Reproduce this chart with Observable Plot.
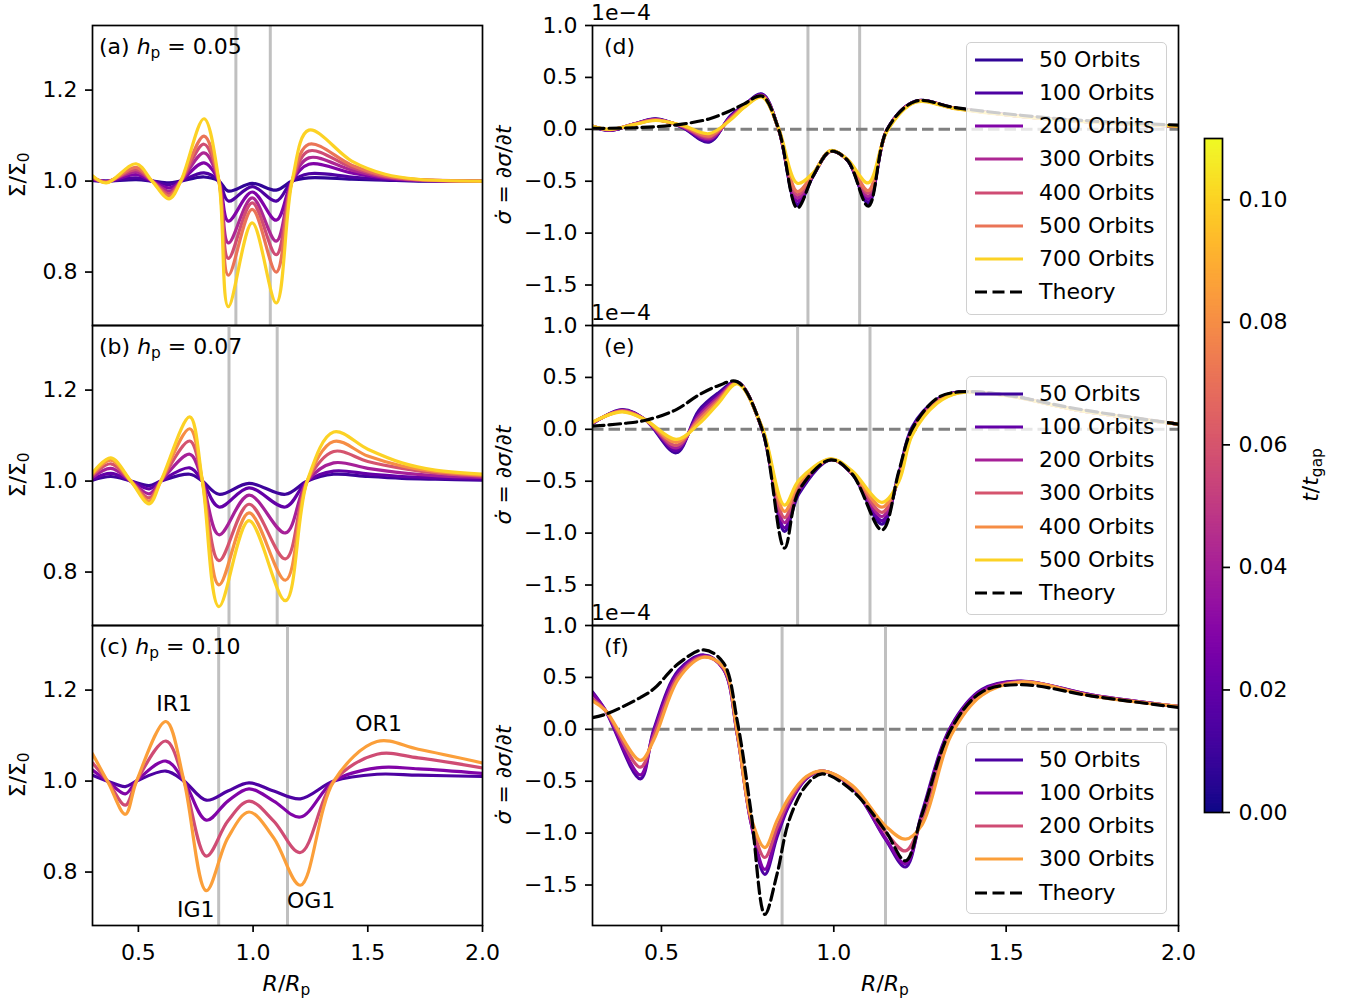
<!DOCTYPE html>
<html><head><meta charset="utf-8">
<script src="https://cdn.jsdelivr.net/npm/d3@7"></script>
<script src="https://cdn.jsdelivr.net/npm/@observablehq/plot@0.6"></script>
<style>
body{margin:0;background:#fff;}
#root{position:relative;width:1345px;height:1000px;font-family:"DejaVu Sans",sans-serif;font-size:22px;color:#000;overflow:hidden;background:#fff;}
#root svg{position:absolute;max-width:none;overflow:visible;}
.lab{position:absolute;white-space:nowrap;line-height:1;}
.cy{transform:translateY(-50%);}
.cc{transform:translate(-50%,-50%);}
.rot{transform:translate(-50%,-50%) rotate(-90deg);}
sub{font-size:0.7em;vertical-align:-0.28em;line-height:0;}
.legend{position:absolute;background:rgba(255,255,255,0.8);border:1.5px solid #d0d0d0;border-radius:5px;box-sizing:border-box;}
</style></head>
<body><div id="root"></div>
<script>
// ---------------- DATA ----------------
const xTicks = [0.5, 1.0, 1.5, 2.0];
const sigmaTicks = [0.8, 1.0, 1.2];
const rateTicks = [1.0, 0.5, 0.0, -0.5, -1.0, -1.5];
const cbTicks = [0, 0.02, 0.04, 0.06, 0.08, 0.10];
const hp = [0.05, 0.07, 0.10];
const orbitsPerTgapUnit = 350;          // t_gap = 350/h_p orbits
const gaps_a = [0.925, 1.075], gaps_b = [0.895, 1.105], gaps_c = [0.85, 1.15];

// (a) Sigma/Sigma0, h = 0.05
const orbits_a = [50, 100, 200, 300, 400, 500, 700];
const R_a = [0.30, 0.36, 0.49, 0.56, 0.634, 0.685, 0.786, 0.851, 0.892, 0.996, 1.101, 1.17, 1.243, 1.43, 1.576, 1.72, 2.0];
const a50  = [1.001, 1.0, 1.003, 1.0, 0.996, 1.0, 1.009, 1.0, 0.978, 0.995, 0.980, 1.0, 1.007, 1.004, 1.002, 1.0, 1.0];
const a100 = [1.002, 1.0, 1.007, 1.0, 0.992, 1.0, 1.018, 1.0, 0.956, 0.988, 0.956, 1.0, 1.016, 1.009, 1.003, 1.001, 1.0];
const a200 = [1.004, 0.999, 1.014, 1.0, 0.985, 1.0, 1.040, 1.0, 0.912, 0.976, 0.914, 1.0, 1.037, 1.018, 1.006, 1.002, 1.0];
const a300 = [1.006, 0.999, 1.020, 1.0, 0.978, 1.0, 1.062, 1.0, 0.864, 0.963, 0.868, 1.0, 1.051, 1.024, 1.008, 1.002, 1.0];
const a400 = [1.008, 0.998, 1.025, 1.0, 0.972, 1.0, 1.081, 1.0, 0.830, 0.952, 0.838, 1.0, 1.066, 1.030, 1.010, 1.003, 1.0];
const a500 = [1.010, 0.997, 1.030, 1.0, 0.967, 1.0, 1.099, 1.0, 0.793, 0.938, 0.800, 1.0, 1.081, 1.035, 1.012, 1.003, 1.0];
const a700 = [1.012, 0.996, 1.038, 1.0, 0.961, 1.0, 1.137, 1.0, 0.724, 0.908, 0.732, 1.0, 1.112, 1.044, 1.015, 1.004, 1.0];

// (b) h = 0.07
const orbits_b = [50, 100, 200, 300, 400, 500];
const R_b = [0.30, 0.38, 0.467, 0.547, 0.598, 0.724, 0.779, 0.851, 0.982, 1.141, 1.236, 1.351, 1.50, 1.649, 1.794, 2.0];
const b50  = [1.002, 1.010, 1.0, 0.990, 1.0, 1.015, 1.0, 0.971, 0.995, 0.971, 1.0, 1.015, 1.010, 1.006, 1.004, 1.002];
const b100 = [1.004, 1.017, 1.0, 0.983, 1.0, 1.029, 1.0, 0.943, 0.985, 0.943, 1.0, 1.022, 1.016, 1.010, 1.007, 1.004];
const b200 = [1.008, 1.028, 1.0, 0.972, 1.0, 1.059, 1.0, 0.882, 0.969, 0.886, 1.0, 1.040, 1.028, 1.018, 1.012, 1.008];
const b300 = [1.012, 1.038, 1.0, 0.963, 1.0, 1.088, 1.0, 0.825, 0.949, 0.829, 1.0, 1.065, 1.043, 1.028, 1.018, 1.011];
const b400 = [1.015, 1.046, 1.0, 0.956, 1.0, 1.115, 1.0, 0.772, 0.930, 0.782, 1.0, 1.087, 1.055, 1.033, 1.021, 1.013];
const b500 = [1.018, 1.051, 1.0, 0.950, 1.0, 1.141, 1.0, 0.724, 0.913, 0.737, 1.0, 1.108, 1.070, 1.040, 1.024, 1.015];

// (c) h = 0.10
const orbits_c = [50, 100, 200, 300];
const R_c = [0.30, 0.37, 0.443, 0.492, 0.62, 0.699, 0.796, 0.89, 0.982, 1.09, 1.206, 1.352, 1.54, 1.72, 2.0];
const c50  = [1.013, 0.999, 0.988, 1.0, 1.022, 1.0, 0.958, 0.978, 0.996, 0.978, 0.961, 1.0, 1.015, 1.013, 1.010];
const c100 = [1.024, 0.998, 0.972, 1.0, 1.044, 1.0, 0.914, 0.956, 0.983, 0.956, 0.921, 1.0, 1.029, 1.027, 1.017];
const c200 = [1.040, 0.997, 0.947, 1.0, 1.088, 1.0, 0.835, 0.912, 0.956, 0.912, 0.843, 1.0, 1.059, 1.051, 1.029];
const c300 = [1.060, 0.995, 0.927, 1.0, 1.131, 1.0, 0.759, 0.875, 0.932, 0.875, 0.771, 1.0, 1.087, 1.070, 1.040];
const annC = [
  {label: "IR1", R: 0.656, v: 1.169},
  {label: "OR1", R: 1.547, v: 1.125},
  {label: "IG1", R: 0.750, v: 0.717},
  {label: "OG1", R: 1.253, v: 0.737}
];

// (d) sigma-dot (1e-4), h = 0.05
const R_d = [0.30, 0.35, 0.42, 0.483, 0.56, 0.638, 0.70, 0.74, 0.792, 0.84, 0.894, 0.94, 0.99, 1.04, 1.10, 1.155, 1.237, 1.35, 1.50, 1.70, 2.0];
const dTheory = [0.01, 0.01, 0.015, 0.025, 0.05, 0.10, 0.18, 0.245, 0.32, 0.0, -0.758, -0.45, -0.213, -0.30, -0.74, 0.0, 0.27, 0.21, 0.15, 0.09, 0.04];
const d50  = [0.03, -0.01, 0.05, 0.100, 0.020, -0.123, 0.130, 0.235, 0.340, 0.0, -0.735, -0.450, -0.213, -0.300, -0.713, 0.0, 0.270, 0.205, 0.14, 0.08, 0.03];
const d100 = [0.03, -0.01, 0.05, 0.098, 0.022, -0.115, 0.125, 0.232, 0.335, 0.0, -0.720, -0.448, -0.212, -0.300, -0.700, 0.0, 0.270, 0.205, 0.14, 0.08, 0.03];
const d200 = [0.03, -0.008, 0.05, 0.096, 0.025, -0.100, 0.118, 0.228, 0.330, 0.0, -0.690, -0.445, -0.211, -0.298, -0.670, -0.002, 0.268, 0.205, 0.14, 0.08, 0.03];
const d300 = [0.03, -0.006, 0.05, 0.094, 0.028, -0.090, 0.110, 0.224, 0.326, 0.0, -0.660, -0.440, -0.210, -0.296, -0.645, -0.004, 0.267, 0.204, 0.14, 0.08, 0.03];
const d400 = [0.03, -0.004, 0.048, 0.091, 0.031, -0.075, 0.104, 0.220, 0.322, 0.0, -0.630, -0.435, -0.209, -0.294, -0.615, -0.006, 0.266, 0.204, 0.14, 0.08, 0.03];
const d500 = [0.03, -0.002, 0.047, 0.088, 0.034, -0.065, 0.098, 0.216, 0.318, 0.0, -0.600, -0.430, -0.208, -0.292, -0.590, -0.008, 0.265, 0.203, 0.14, 0.08, 0.03];
const d700 = [0.03, 0.0, 0.045, 0.085, 0.040, -0.042, 0.090, 0.210, 0.310, 0.01, -0.520, -0.420, -0.205, -0.290, -0.516, -0.015, 0.260, 0.200, 0.138, 0.078, 0.03];

// (e) h = 0.07
const R_e = [0.30, 0.386, 0.454, 0.543, 0.608, 0.665, 0.72, 0.792, 0.857, 0.899, 0.991, 1.053, 1.14, 1.189, 1.227, 1.30, 1.363, 1.50, 1.70, 2.0];
const eTheory = [0.03, 0.055, 0.087, 0.19, 0.33, 0.42, 0.458, 0.0, -1.145, -0.59, -0.294, -0.43, -0.971, -0.40, 0.0, 0.30, 0.36, 0.33, 0.20, 0.05];
const e50  = [0.055, 0.190, 0.09, -0.226, 0.180, 0.35, 0.458, 0.0, -0.984, -0.62, -0.294, -0.430, -0.913, -0.42, 0.02, 0.290, 0.360, 0.330, 0.19, 0.05];
const e100 = [0.058, 0.186, 0.09, -0.205, 0.155, 0.33, 0.455, 0.003, -0.950, -0.60, -0.293, -0.428, -0.880, -0.44, 0.0, 0.285, 0.360, 0.330, 0.19, 0.05];
const e200 = [0.060, 0.182, 0.09, -0.180, 0.130, 0.31, 0.452, 0.006, -0.900, -0.575, -0.291, -0.425, -0.840, -0.45, -0.01, 0.280, 0.357, 0.328, 0.19, 0.05];
const e300 = [0.063, 0.178, 0.09, -0.155, 0.105, 0.29, 0.449, 0.010, -0.850, -0.55, -0.289, -0.420, -0.800, -0.47, -0.03, 0.270, 0.355, 0.327, 0.19, 0.05];
const e400 = [0.066, 0.173, 0.09, -0.125, 0.080, 0.27, 0.445, 0.015, -0.790, -0.52, -0.287, -0.415, -0.750, -0.48, -0.045, 0.260, 0.352, 0.326, 0.19, 0.05];
const e500 = [0.070, 0.168, 0.09, -0.097, 0.050, 0.25, 0.440, 0.020, -0.730, -0.49, -0.285, -0.400, -0.703, -0.50, -0.06, 0.250, 0.350, 0.325, 0.19, 0.05];

// (f) h = 0.10
const R_f = [0.30, 0.338, 0.439, 0.478, 0.55, 0.623, 0.68, 0.72, 0.76, 0.80, 0.835, 0.87, 0.92, 0.966, 1.053, 1.15, 1.208, 1.256, 1.34, 1.43, 1.542, 1.75, 2.0];
const fTheory = [0.113, 0.145, 0.306, 0.39, 0.635, 0.765, 0.64, 0.08, -0.80, -1.784, -1.40, -0.88, -0.54, -0.43, -0.59, -0.98, -1.268, -0.82, 0.0, 0.36, 0.43, 0.32, 0.21];
const f50  = [0.360, 0.18, -0.477, 0.00, 0.571, 0.716, 0.58, -0.05, -0.90, -1.397, -1.04, -0.735, -0.477, -0.403, -0.558, -1.06, -1.326, -0.80, 0.03, 0.384, 0.465, 0.33, 0.22];
const f100 = [0.345, 0.18, -0.439, -0.02, 0.550, 0.710, 0.58, -0.05, -0.90, -1.350, -1.00, -0.720, -0.472, -0.403, -0.555, -1.05, -1.294, -0.82, 0.02, 0.375, 0.462, 0.33, 0.22];
const f200 = [0.297, 0.18, -0.365, -0.06, 0.520, 0.700, 0.59, -0.04, -0.88, -1.235, -0.95, -0.690, -0.465, -0.402, -0.548, -0.99, -1.171, -0.87, -0.02, 0.350, 0.458, 0.325, 0.22];
const f300 = [0.274, 0.18, -0.300, -0.10, 0.490, 0.694, 0.60, -0.03, -0.85, -1.139, -0.88, -0.655, -0.455, -0.400, -0.540, -0.93, -1.058, -0.92, -0.06, 0.329, 0.455, 0.32, 0.22];

// ---------------- BUILD ----------------
const root = document.getElementById("root");
const FS = 22, LW = 3.2;
const colorOpts = {type: "linear", scheme: "plasma", domain: [0, 0.11]};
const colorScale = Plot.scale({color: colorOpts});
const fmt1 = d3.format(".1f");

function rows(R, lists, orbits, h) {
  const out = [];
  lists.forEach((vals, i) => vals.forEach((v, j) =>
    out.push({R: R[j], v, orbits: orbits[i], t: orbits[i] * h / orbitsPerTgapUnit})));
  return out;
}
function pts(R, vals) { return vals.map((v, j) => ({R: R[j], v})); }

function panel(o) {
  const ml = 100, mr = 10, mt = 10, mb = o.showX ? 80 : 10;
  const W = o.x1 - o.x0, H = o.y1 - o.y0;
  const marks = [
    Plot.ruleX(o.gaps, {stroke: "#c0c0c0", strokeWidth: 3}),
  ];
  if (o.zero) marks.push(Plot.ruleY([0], {stroke: "#808080", strokeWidth: 3.1, strokeDasharray: "11.5,5"}));
  marks.push(Plot.line(o.sims, {x: "R", y: "v", z: "orbits", stroke: "t", strokeWidth: LW, curve: "catmull-rom", clip: true}));
  if (o.theory) marks.push(Plot.line(o.theory, {x: "R", y: "v", stroke: "black", strokeWidth: LW, strokeDasharray: "11.5,5", curve: "catmull-rom", clip: true}));
  if (o.ann) marks.push(Plot.text(o.ann, {x: "R", y: "v", text: "label", fontSize: FS, fill: "black"}));
  marks.push(Plot.frame({stroke: "black", strokeWidth: 1.7}));
  marks.push(Plot.axisY({ticks: o.yTicks, tickSize: 7, tickPadding: 8, tickFormat: fmt1, fontSize: FS, strokeWidth: 1.7, label: null}));
  if (o.showX) marks.push(Plot.axisX({ticks: xTicks, tickSize: 7, tickPadding: 12, tickFormat: fmt1, fontSize: FS, strokeWidth: 1.7, label: null}));
  const svg = Plot.plot({
    width: W + ml + mr, height: H + mt + mb,
    marginLeft: ml, marginRight: mr, marginTop: mt, marginBottom: mb,
    x: {domain: [0.3, 2.0], axis: null},
    y: {domain: o.yDomain, axis: null},
    color: colorOpts,
    style: {fontFamily: "DejaVu Sans", fontSize: FS + "px", background: "transparent", overflow: "visible", color: "black"},
    marks
  });
  svg.style.left = (o.x0 - ml) + "px";
  svg.style.top = (o.y0 - mt) + "px";
  root.appendChild(svg);
}

function label(html, x, y, cls) {
  const d = document.createElement("div");
  d.className = "lab " + (cls || "");
  d.innerHTML = html;
  d.style.left = x + "px"; d.style.top = y + "px";
  root.appendChild(d);
}

function legend(x, y, w, h, items) {
  const div = document.createElement("div");
  div.className = "legend";
  Object.assign(div.style, {left: x + "px", top: y + "px", width: w + "px", height: h + "px"});
  let html = "";
  items.forEach((it, i) => {
    const cy = 17 + i * 33.15;
    const dash = it.dashed ? 'stroke-dasharray="12,5.5"' : "";
    html += `<svg style="position:absolute;left:7px;top:${cy - 5}px;overflow:visible" width="50" height="10"><line x1="1" x2="49" y1="5" y2="5" stroke="${it.color}" stroke-width="3.2" ${dash}/></svg>`;
    html += `<div class="lab cy" style="left:72px;top:${cy}px">${it.label}</div>`;
  });
  div.innerHTML = html;
  root.appendChild(div);
}

const Lx0 = 91.5, Lx1 = 481.5, Rx0 = 592, Rx1 = 1178;
const rowsY = [25, 325, 625, 925];
const sigDomain = [0.6825, 1.342], rateDomain = [-1.89, 1.0];

panel({x0: Lx0, x1: Lx1, y0: rowsY[0], y1: rowsY[1], yDomain: sigDomain, yTicks: sigmaTicks, gaps: gaps_a,
  sims: rows(R_a, [a50, a100, a200, a300, a400, a500, a700], orbits_a, hp[0])});
panel({x0: Lx0, x1: Lx1, y0: rowsY[1], y1: rowsY[2], yDomain: sigDomain, yTicks: sigmaTicks, gaps: gaps_b,
  sims: rows(R_b, [b50, b100, b200, b300, b400, b500], orbits_b, hp[1])});
panel({x0: Lx0, x1: Lx1, y0: rowsY[2], y1: rowsY[3], yDomain: sigDomain, yTicks: sigmaTicks, gaps: gaps_c, showX: true,
  sims: rows(R_c, [c50, c100, c200, c300], orbits_c, hp[2]), ann: annC});

panel({x0: Rx0, x1: Rx1, y0: rowsY[0], y1: rowsY[1], yDomain: rateDomain, yTicks: rateTicks, gaps: gaps_a, zero: true,
  sims: rows(R_d, [d50, d100, d200, d300, d400, d500, d700], orbits_a, hp[0]), theory: pts(R_d, dTheory)});
panel({x0: Rx0, x1: Rx1, y0: rowsY[1], y1: rowsY[2], yDomain: rateDomain, yTicks: rateTicks, gaps: gaps_b, zero: true,
  sims: rows(R_e, [e50, e100, e200, e300, e400, e500], orbits_b, hp[1]), theory: pts(R_e, eTheory)});
panel({x0: Rx0, x1: Rx1, y0: rowsY[2], y1: rowsY[3], yDomain: rateDomain, yTicks: rateTicks, gaps: gaps_c, zero: true, showX: true,
  sims: rows(R_f, [f50, f100, f200, f300], orbits_c, hp[2]), theory: pts(R_f, fTheory)});

// colorbar
const cbTop = 138, cbBot = 812, cbL = 1204, cbR = 1222;
const cbSteps = d3.range(0, 0.11 + 1e-9, 0.00025);
const cb = Plot.plot({
  width: (cbR - cbL) + 10 + 100, height: (cbBot - cbTop) + 20,
  marginLeft: 10, marginRight: 100, marginTop: 10, marginBottom: 10,
  y: {domain: [0, 0.11], axis: null},
  color: colorOpts,
  style: {fontFamily: "DejaVu Sans", fontSize: FS + "px", background: "transparent", overflow: "visible", color: "black"},
  marks: [
    Plot.ruleY(cbSteps, {y: d => d, stroke: d => d, strokeWidth: 3, clip: true}),
    Plot.frame({stroke: "black", strokeWidth: 1.7}),
    Plot.axisY({anchor: "right", ticks: cbTicks, tickFormat: d3.format(".2f"), tickSize: 7, tickPadding: 9, fontSize: FS, strokeWidth: 1.7, label: null})
  ]
});
cb.style.left = (cbL - 10) + "px"; cb.style.top = (cbTop - 10) + "px";
root.appendChild(cb);
label("<i>t</i>/<i>t</i><sub>gap</sub>", 1311, 475, "rot");

// panel labels
label("(a) <i>h</i><sub>p</sub> = 0.05", 99, 47, "cy");
label("(b) <i>h</i><sub>p</sub> = 0.07", 99, 347, "cy");
label("(c) <i>h</i><sub>p</sub> = 0.10", 99, 647, "cy");
label("(d)", 604, 47, "cy");
label("(e)", 604, 347, "cy");
label("(f)", 604, 647, "cy");
["1e−4", "1e−4", "1e−4"].forEach((s, i) => label(s, 591, rowsY[i] - 12, "cy"));

// axis labels
[0, 1, 2].forEach(i => {
  const cyy = (rowsY[i] + rowsY[i + 1]) / 2;
  label("Σ/Σ<sub>0</sub>", 18, cyy, "rot");
  label("<i>σ̇</i> = <i>∂σ</i>/<i>∂t</i>", 504, cyy, "rot");
});
label("<i>R</i>/<i>R</i><sub>p</sub>", (Lx0 + Lx1) / 2, 984, "cc");
label("<i>R</i>/<i>R</i><sub>p</sub>", (Rx0 + Rx1) / 2, 984, "cc");

// legends
const legItems = (orbits, h) => orbits.map(o => ({label: o + " Orbits", color: colorScale.apply(o * h / orbitsPerTgapUnit)}))
  .concat([{label: "Theory", color: "black", dashed: true}]);
legend(966, 42, 201, 273, legItems(orbits_a, hp[0]));
legend(966, 376, 201, 239, legItems(orbits_b, hp[1]));
legend(966, 742, 201, 172, legItems(orbits_c, hp[2]));
</script></body></html>
